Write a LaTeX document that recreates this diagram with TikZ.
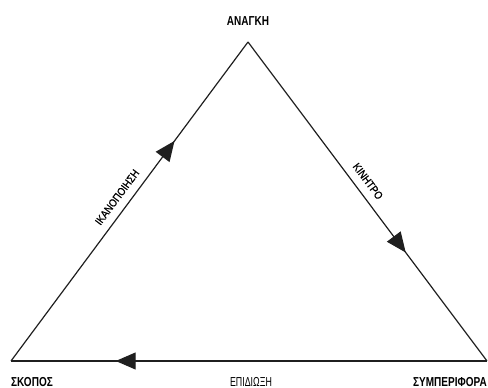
\documentclass[tikz,border=0pt]{standalone}
\usepackage{fontspec}
\usetikzlibrary{arrows.meta,decorations.markings}
\newfontfamily\cornerfont[FakeStretch=0.77]{Liberation Sans}
\newfontfamily\goalfont[FakeStretch=0.68]{Liberation Sans}
\newfontfamily\sidefont[FakeStretch=0.86,FakeBold=0.6]{Liberation Sans}
\begin{document}
\begin{tikzpicture}[x=1pt,y=1pt,
  side/.style={line width=1.2pt, draw=black!88},
  midarrow/.style={postaction={decorate},
    decoration={markings, mark=at position #1 with {\arrow{Triangle[length=20pt,width=17pt]}}}},
  corner/.style={inner sep=0pt, anchor=base, font=\cornerfont\bfseries\fontsize{13}{13}\selectfont},
  sidelabel/.style={inner sep=0pt, font=\sidefont\fontsize{11}{11}\selectfont}]
  \useasboundingbox (0,0) rectangle (488,388);
  % triangle corners
  \coordinate (need) at (248,346);
  \coordinate (goal) at (11,27);
  \coordinate (behav) at (487,27);
  % corner labels
  \node[corner] (lneed) at (248,362) {ΑΝΑΓΚΗ};
  \node[corner] (lgoal) at (32,1.5) {ΣΚΟΠΟΣ};
  \node[corner, anchor=base west] (lbehav) at (413,1.5) {ΣΥΜΠΕΡΙΦΟΡΑ};
  % sides with their arrows
  \draw[side, midarrow=0.69] (goal) -- node[sidelabel, pos=0.49, sloped, above=8pt] (lsat) {ΙΚΑΝΟΠΟΙΗΣΗ} (need);
  \draw[side, midarrow=0.66] (need) -- node[sidelabel, pos=0.46, sloped, above=8pt] (lmot) {ΚΙΝΗΤΡΟ} (behav);
  \draw[side, midarrow=0.78] (behav) -- (goal);
  \node[inner sep=0pt, anchor=base, font=\goalfont\fontsize{13}{13}\selectfont] (lpursuit) at (251,1.5) {ΕΠΙΔΙΩΞΗ};
\end{tikzpicture}
\end{document}
